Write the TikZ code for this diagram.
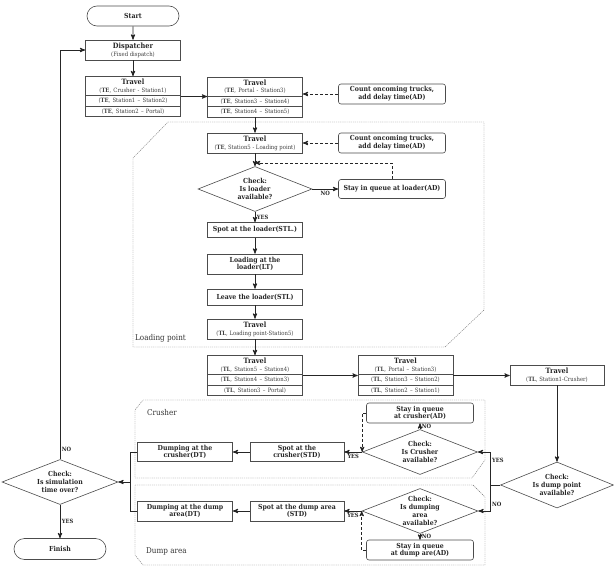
\documentclass[tikz,border=0pt]{standalone}
\usepackage{fontspec}
\setmainfont{DejaVu Serif Condensed}
\usepackage{tikz}
\usetikzlibrary{positioning,calc,shapes,arrows}
\newcommand{\rowf}{\fontsize{5.9}{6.6}\selectfont\mdseries\color{black!75}}
\newcommand{\ttlf}{\fontsize{7.3}{8.2}\selectfont\bfseries}

\begin{document}
\begin{tikzpicture}[x=1pt,y=1pt,auto]
    \tikzstyle{every node}=[font=\fontsize{6.9}{7.8}\selectfont\bfseries,text=black!85,inner sep=1]
    \tikzstyle{box}=[draw=black!70,fill=white,rectangle,line width=0.6,minimum width=95,minimum height=20,align=center]
    \tikzstyle{note}=[box,rounded corners=2.5,minimum width=107]
    \tikzstyle{term}=[draw=black!70,fill=white,rounded rectangle,line width=0.6,minimum width=94,minimum height=20]
    \tikzstyle{check}=[draw=black!70,fill=white,diamond,aspect=2.5,inner sep=0,line width=0.6,minimum width=114,minimum height=45,align=center]
    \tikzstyle{travel}=[draw=black!70,fill=white,rectangle split,rectangle split parts=3,line width=0.6,text width=93,inner xsep=1,inner ysep=2.2,align=center]
    \tikzstyle{area}=[draw=black!55,line width=0.4,dash pattern=on 1.2pt off 0.9pt]
    \tikzstyle{areaname}=[font=\fontsize{8}{9}\selectfont\mdseries,text=black!80,anchor=west]
    \tikzstyle{flow}=[->,>=stealth',line width=0.9,draw=black!85]
    \tikzstyle{wait}=[flow,densely dashed]
    \tikzstyle{ans}=[font=\fontsize{5.8}{6.4}\selectfont\bfseries,inner sep=1.5]

    \useasboundingbox (0,0) rectangle (614,-573);

    % zones
    \draw[area] (168,-122) -- (484,-122) -- (484,-310) -- (445,-347) -- (133,-347) -- (133,-158) -- cycle;
    \draw[area] (143,-400) -- (485,-400) -- (485,-460) -- (472,-478) -- (135,-478) -- (135,-410) -- cycle;
    \draw[area] (135,-485) -- (473,-485) -- (485,-497) -- (485,-565) -- (143,-565) -- (135,-555) -- cycle;
    \node[areaname] (zload) at (134,-338) {Loading point};
    \node[areaname] (zcrush) at (146,-413) {Crusher};
    \node[areaname] (zdump) at (145,-551) {Dump area};

    % haul to the loader
    \node[term] (start) at (133,-16) {Start};
    \node[box] (disp) at (133,-50) {{\ttlf Dispatcher}\\{\rowf (Fixed dispatch)}};
    \node[travel] (t1) at (133,-96.5) {{\ttlf Travel}\\{\rowf(\textbf{TE}, Crusher - Station1)}
        \nodepart{two}{\rowf(\textbf{TE}, Station1 -- Station2)}
        \nodepart{three}{\rowf(\textbf{TE}, Station2 -- Portal)}};
    \node[travel] (t2) at (255,-97) {{\ttlf Travel}\\{\rowf(\textbf{TE}, Portal - Station3)}
        \nodepart{two}{\rowf(\textbf{TE}, Station3 -- Station4)}
        \nodepart{three}{\rowf(\textbf{TE}, Station4 -- Station5)}};
    \node[note] (cnt1) at (392,-94) {Count oncoming trucks,\\add delay time(AD)};
    \node[box] (t3) at (255,-143) {{\ttlf Travel}\\{\rowf(\textbf{TE}, Station5 - Loading point)}};
    \node[note] (cnt2) at (392,-143) {Count oncoming trucks,\\add delay time(AD)};

    % loading point
    \node[check] (ldr) at (255,-189) {Check:\\Is loader\\available?};
    \node[note,minimum height=19] (qldr) at (392,-189) {Stay in queue at loader(AD)};
    \node[box,minimum height=15] (spot) at (255,-230) {Spot at the loader(STL.)};
    \node[box] (load) at (255,-264) {Loading at the\\loader(LT)};
    \node[box,minimum height=16] (leave) at (255,-297) {Leave the loader(STL)};
    \node[box] (t4) at (255,-329) {{\ttlf Travel}\\{\rowf(\textbf{TL}, Loading point-Station5)}};

    % haul back
    \node[travel] (t5) at (255,-375.5) {{\ttlf Travel}\\{\rowf(\textbf{TL}, Station5 -- Station4)}
        \nodepart{two}{\rowf(\textbf{TL}, Station4 -- Station3)}
        \nodepart{three}{\rowf(\textbf{TL}, Station3 -- Portal)}};
    \node[travel] (t6) at (405.5,-375.5) {{\ttlf Travel}\\{\rowf(\textbf{TL}, Portal -- Station3)}
        \nodepart{two}{\rowf(\textbf{TL}, Station3 -- Station2)}
        \nodepart{three}{\rowf(\textbf{TL}, Station2 -- Station1)}};
    \node[box,minimum width=94] (t7) at (557,-375) {{\ttlf Travel}\\{\rowf(\textbf{TL}, Station1-Crusher)}};
    \node[check,minimum width=113,minimum height=46] (cdp) at (557,-485) {Check:\\Is dump point\\available?};

    % crusher
    \node[check,minimum width=115] (ccr) at (420,-452) {Check:\\Is Crusher\\available?};
    \node[note] (qcr) at (420,-413) {Stay in queue\\at crusher(AD)};
    \node[box,minimum width=94,minimum height=19] (scr) at (297,-452) {Spot at the\\crusher(STD)};
    \node[box,minimum width=95,minimum height=19] (dcr) at (185,-452) {Dumping at the\\crusher(DT)};

    % dump area
    \node[check,minimum width=116] (cda) at (420,-511) {Check:\\Is dumping\\area\\available?};
    \node[note] (qda) at (420,-550) {Stay in queue\\at dump are(AD)};
    \node[box,minimum width=94] (sda) at (297,-511) {Spot at the dump area\\(STD)};
    \node[box,minimum width=95] (dda) at (185,-511) {Dumping at the dump\\area(DT)};

    % end of cycle
    \node[check,minimum width=116] (csim) at (60,-482) {Check:\\Is simulation\\time over?};
    \node[term,minimum height=21] (fin) at (60,-549) {Finish};

    \draw[flow] (start) -- (disp);
    \draw[flow] (disp) -- (t1);
    \draw[flow] (t1.east) -- (t1.east -| t2.west);
    \draw[wait] (cnt1.west) -- (cnt1.west -| t2.east);
    \draw[flow] (t2) -- (t3);
    \draw[wait] (cnt2) -- (t3);
    \draw[flow] (t3) -- (ldr);
    \draw[flow] (ldr) -- node[ans,below] {NO} (qldr);
    \coordinate (lj) at ($(t3.south)!0.75!(ldr.north)$);
    \draw[wait] (qldr.north) |- (lj);
    \draw[flow] (ldr) -- node[ans,right] {YES} (spot);
    \draw[flow] (spot) -- (load);
    \draw[flow] (load) -- (leave);
    \draw[flow] (leave) -- (t4);
    \draw[flow] (t4) -- (t5);
    \draw[flow] (t5.east) -- (t5.east -| t6.west);
    \draw[flow] (t6.east) -- (t6.east -| t7.west);
    \draw[flow] (t7) -- (cdp);

    \coordinate (fork) at ($(cdp.west)+(-10,0)$);
    \draw[flow] (cdp.west) -- (fork) |- node[ans,right,pos=0.38] {YES} (ccr.east);
    \draw[flow] (fork) |- node[ans,right,pos=0.38] {NO} (cda.east);

    \draw[flow] (ccr) -- node[ans,below] {YES} (scr);
    \draw[flow] (scr) -- (dcr);
    \draw[flow] (ccr) -- node[ans,right] {NO} (qcr);
    \draw[wait] (qcr.west) -| (ccr.west);

    \draw[flow] (cda) -- node[ans,below] {YES} (sda);
    \draw[flow] (sda) -- (dda);
    \draw[flow] (cda) -- node[ans,right] {NO} (qda);
    \draw[wait] (qda.west) -| (cda.west);

    \coordinate (mrg) at (130,-482);
    \draw[line width=0.9,black!85] (dcr.west) -| (mrg) (dda.west) -| (mrg);
    \draw[flow] (mrg) -- (mrg -| csim.east);
    \draw[flow] (csim.north) |- node[ans,right,pos=0.012] {NO} (disp.west);
    \draw[flow] (csim) -- node[ans,right] {YES} (fin);
\end{tikzpicture}
\end{document}
